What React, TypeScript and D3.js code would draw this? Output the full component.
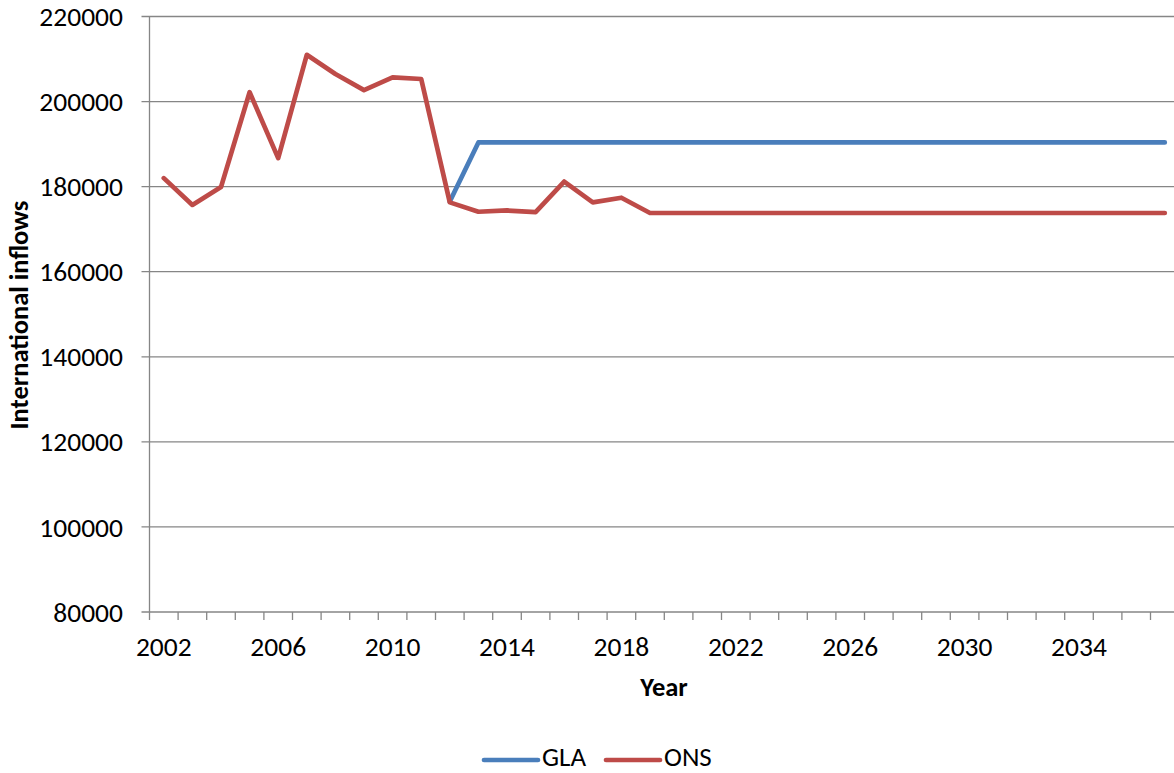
import React from "react";
import * as d3 from "d3";

// Years on the category axis
const years: number[] = d3.range(2002, 2038);

// GLA projection (starts in 2012)
const glaStartYear = 2012;
const glaValues: number[] = [
  176500, 190400, 190400, 190400, 190400, 190400, 190400, 190400, 190400,
  190400, 190400, 190400, 190400, 190400, 190400, 190400, 190400, 190400,
  190400, 190400, 190400, 190400, 190400, 190400, 190400, 190400,
];

// ONS series (2002 onwards)
const onsValues: number[] = [
  182000, 175700, 179900, 202200, 186700, 211000, 206500, 202700, 205700,
  205300, 176300, 174100, 174400, 174000, 181200, 176300, 177400, 173800,
  173800, 173800, 173800, 173800, 173800, 173800, 173800, 173800, 173800,
  173800, 173800, 173800, 173800, 173800, 173800, 173800, 173800, 173800,
];

const yTicks: number[] = [80000, 100000, 120000, 140000, 160000, 180000, 200000, 220000];
const xLabelYears: number[] = [2002, 2006, 2010, 2014, 2018, 2022, 2026, 2030, 2034];

const series = [
  { name: "GLA", color: "#4A7EBB", start: glaStartYear, values: glaValues },
  { name: "ONS", color: "#BE4B48", start: 2002, values: onsValues },
];

const W = 1174;
const H = 773;
const left = 149.5;
const top = 16.5;
const plotW = 36 * 28.6;
const plotH = 595.5;
const FONT = "Carlito, Calibri, 'Liberation Sans', Arial, sans-serif";
const GRID = "#868686";

export default function App() {
  const x = d3
    .scaleBand<number>()
    .domain(years)
    .range([left, left + plotW])
    .padding(0);
  const y = d3.scaleLinear().domain([80000, 220000]).range([top + plotH, top]);
  const cx = (yr: number) => (x(yr) as number) + x.bandwidth() / 2;

  const line = d3
    .line<[number, number]>()
    .x((d) => cx(d[0]))
    .y((d) => y(d[1]));

  const bottom = top + plotH;
  const boundaries = d3.range(0, years.length + 1).map((i) => left + i * x.bandwidth());

  return (
    <svg
      width={W}
      height={H}
      style={{ position: "absolute", left: 0, top: 0, background: "#fff" }}
      fontFamily={FONT}
    >
      {/* horizontal gridlines and y ticks */}
      {yTicks.map((t) => (
        <g key={t}>
          <line x1={left - 8} x2={left + plotW} y1={y(t)} y2={y(t)} stroke={GRID} strokeWidth={1.3} />
          <text x={123} y={y(t)} dy="0.35em" textAnchor="end" fontSize={27.5} fill="#000">
            {t}
          </text>
        </g>
      ))}
      {/* y axis */}
      <line x1={left} x2={left} y1={top} y2={bottom} stroke={GRID} strokeWidth={1.3} />
      {/* x tick marks at category boundaries */}
      {boundaries.map((bx, i) => (
        <line key={i} x1={bx} x2={bx} y1={bottom} y2={bottom + 8} stroke={GRID} strokeWidth={1.3} />
      ))}
      {xLabelYears.map((yr) => (
        <text key={yr} x={cx(yr)} y={656} textAnchor="middle" fontSize={27.5} fill="#000">
          {yr}
        </text>
      ))}
      {/* axis titles */}
      <text x={664} y={696} textAnchor="middle" fontSize={26.5} fontWeight="bold" fill="#000">
        Year
      </text>
      <text
        transform={`translate(28,315) rotate(-90)`}
        textAnchor="middle"
        fontSize={26.5}
        fontWeight="bold"
        fill="#000"
      >
        International inflows
      </text>
      {/* series */}
      {series.map((s) => (
        <path
          key={s.name}
          d={line(s.values.map((v, i) => [s.start + i, v] as [number, number])) as string}
          fill="none"
          stroke={s.color}
          strokeWidth={4.7}
          strokeLinejoin="round"
          strokeLinecap="round"
        />
      ))}
      {/* legend */}
      {series.map((s, i) => {
        const lx = 484 + i * 122;
        return (
          <g key={s.name}>
            <line x1={lx} x2={lx + 54} y1={760} y2={760} stroke={s.color} strokeWidth={4.7} strokeLinecap="round" />
            <text x={lx + 58} y={766} fontSize={27} fill="#000">
              {s.name}
            </text>
          </g>
        );
      })}
    </svg>
  );
}
